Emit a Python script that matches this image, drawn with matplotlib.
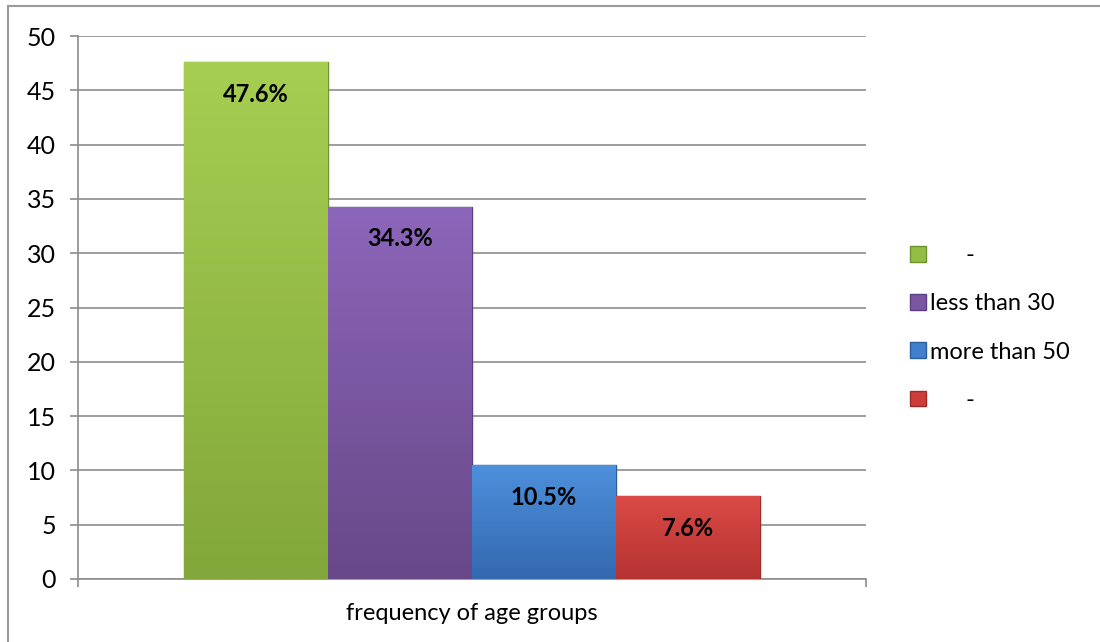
import matplotlib
matplotlib.use("Agg")
import numpy as np
import matplotlib.pyplot as plt
from matplotlib.lines import Line2D
from matplotlib.patches import Patch
from matplotlib.colors import LinearSegmentedColormap

plt.rcParams['font.family'] = ['Lato', 'DejaVu Sans']

categories = ["      -", "less than 30", "more than 50", "      -"]
values = [47.6, 34.3, 10.5, 7.6]
labels = ["47.6%", "34.3%", "10.5%", "7.6%"]
colors = ["#93BE45", "#7A56A3", "#3F7FCC", "#CC3D3B"]
top_colors = ["#A6CE52", "#8C66BA", "#4E90DC", "#DA4A46"]
bottom_colors = ["#82A73A", "#684888", "#3469B0", "#B53331"]
edge_colors = ["#6E9230", "#5C3F82", "#2B5E9C", "#9E2A2A"]
yticks = [0, 5, 10, 15, 20, 25, 30, 35, 40, 45, 50]
xlabel = "frequency of age groups"

fig = plt.figure(figsize=(11, 6.42), dpi=100)
ax = fig.add_axes([78/1100, 1-579/642, (866-78)/1100, (579-36)/642])

w = 144/788
n = len(values)
xs = [(i - (n-1)/2) * w for i in range(n)]
bars = ax.bar(xs, values, width=w, color=colors, edgecolor=edge_colors,
              linewidth=1.0, zorder=3)
grad = np.linspace(0, 1, 256).reshape(-1, 1)
for b, tc, bc in zip(bars, top_colors, bottom_colors):
    cmap = LinearSegmentedColormap.from_list("g", [tc, bc])
    x0, y0 = b.get_x(), b.get_y()
    im = ax.imshow(grad, cmap=cmap, aspect='auto', origin='upper',
                   extent=(x0, x0 + b.get_width(), y0, y0 + b.get_height()),
                   zorder=3.1)
    im.set_clip_path(b)

for x, v, lab in zip(xs, values, labels):
    ax.text(x, v - 1.9, lab, ha='center', va='top', fontsize=17,
            fontweight='bold', color='black', zorder=4)

ax.set_xlim(-0.5, 0.5)
ax.set_ylim(0, 50)
ax.set_yticks(yticks)
ax.set_yticklabels([str(t) for t in yticks], fontsize=18)
ax.yaxis.grid(True, color='#8c8c8c', linewidth=1.2, zorder=0)
ax.set_axisbelow(True)
ax.tick_params(axis='y', length=6, width=1.2, color='#8c8c8c', pad=10)
ax.set_xticks([-0.5, 0.5])
ax.set_xticklabels(["", ""])
ax.tick_params(axis='x', length=6, width=1.2, color='#8c8c8c')
for s in ['top', 'right']:
    ax.spines[s].set_visible(False)
for s in ['left', 'bottom']:
    ax.spines[s].set_color('#8c8c8c')
    ax.spines[s].set_linewidth(1.2)
ax.set_xlabel(xlabel, fontsize=17, labelpad=8)

handles = [Patch(facecolor=c, edgecolor=e) for c, e in zip(colors, edge_colors)]
leg = fig.legend(handles, categories, loc='upper left',
                 bbox_to_anchor=(889/1100, 1-224/642), frameon=False,
                 fontsize=17, handlelength=0.65, handleheight=0.65,
                 handletextpad=0.2, labelspacing=1.15)

fig.add_artist(Line2D([8/1100, 8/1100], [0, 1-6/642], color='#9a9a9a', linewidth=1.5))
fig.add_artist(Line2D([8/1100, 1], [1-6/642, 1-6/642], color='#9a9a9a', linewidth=1.5))

fig.savefig("out.png", dpi=100)
